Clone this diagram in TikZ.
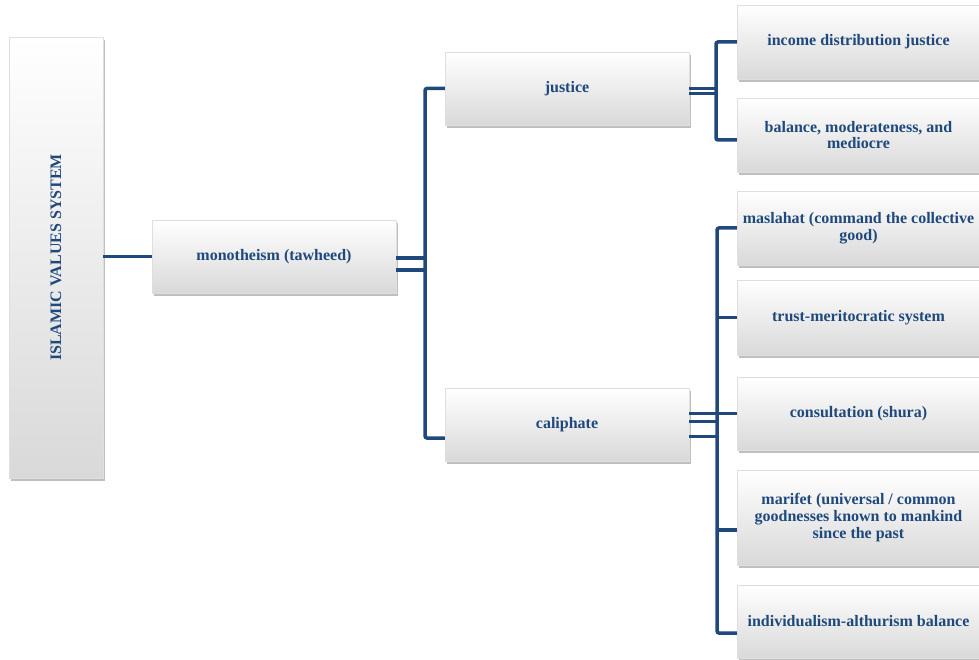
\documentclass[tikz,border=0pt]{standalone}
\usepackage{fontspec}
\setmainfont{Liberation Serif}
\usepackage{tikz}
\usetikzlibrary{shadows}
\definecolor{navy}{RGB}{31,73,125}
\tikzstyle{block}=[rectangle, draw=gray!25
%,fill=white
,top color=white, bottom color=gray!30
,drop shadow={opacity=0.5,shadow xshift=2pt,shadow yshift=-3pt}
,text=navy, font=\bfseries\fontsize{16}{16.8}\selectfont
,align=center, inner sep=2pt
]
\tikzstyle{link} = [draw=navy, line width=3.5pt, rounded corners=2pt]

\begin{document}
\begin{tikzpicture}[x=1pt,y=-1pt]
    \useasboundingbox (0,0) rectangle (979,660);
    % First we draw the boxes
    \node[block, minimum width=94pt, minimum height=441pt] (sys) at (56,257.5) {\rotatebox{90}{ISLAMIC VALUES SYSTEM}};
    \node[block, minimum width=244pt, minimum height=73pt] (mono) at (274,256.5) {monotheism (tawheed)};
    \foreach \pos/\name/\txt in {{(567,88.5)/just/justice}, {(567,424.5)/cali/caliphate}}
        \node[block, minimum width=244pt, minimum height=73pt] (\name) at \pos {\txt};
    \foreach \pos/\name/\h/\txt in {{(858.5,42)/inc/74/{income distribution justice}},
        {(858.5,135)/bal/74/{balance, moderateness, and\\mediocre}},
        {(858.5,228)/mas/74/{maslahat (command the collective\\good)}},
        {(858.5,317.5)/tru/75/{trust-meritocratic system}},
        {(858.5,413.5)/con/73/{consultation (shura)}},
        {(858.5,517.5)/mar/95/{marifet (universal / common\\goodnesses known to mankind\\since the past}},
        {(858.5,621.5)/ind/73/{individualism-althurism balance}}}
        \node[block, minimum width=243pt, minimum height=\h pt] (\name) at \pos {\txt};

    % Trunk lines
    \coordinate (t1) at (425,0);
    \coordinate (t2) at (716,0);
    \coordinate (t3) at (717,0);
    \coordinate (c1) at ([yshift=-13.5pt]cali.west);
    \coordinate (c2) at ([yshift=-5pt]bal.west);
    \coordinate (c3) at ([yshift=-11.5pt]ind.west);
    \coordinate (c4) at ([yshift=-12.5pt]mar.west);

    % Connect boxes with lines
    \path[link] (sys.east |- mono.west) -- (mono.west);
    \foreach \s in {-1.5,-13.5}
        \path[link] ([yshift=\s pt]mono.east) -- ++(29,0);
    \path[link] (just.west) -| (t1 |- c1) -- (c1);

    \foreach \s in {0,-5}
        \path[link] ([yshift=\s pt]just.east) -- ++(27,0);
    \path[link] (inc.west) -| (t2 |- c2) -- (c2);

    \foreach \s in {11,3,-12}
        \path[link] ([yshift=\s pt]cali.east) -- ++(28,0);
    \path[link] (mas.west) -| (t3 |- c3) -- (c3);
    \foreach \n in {tru,con,c4}
        \path[link] (\n) -- (t3 |- \n);
\end{tikzpicture}
\end{document}
